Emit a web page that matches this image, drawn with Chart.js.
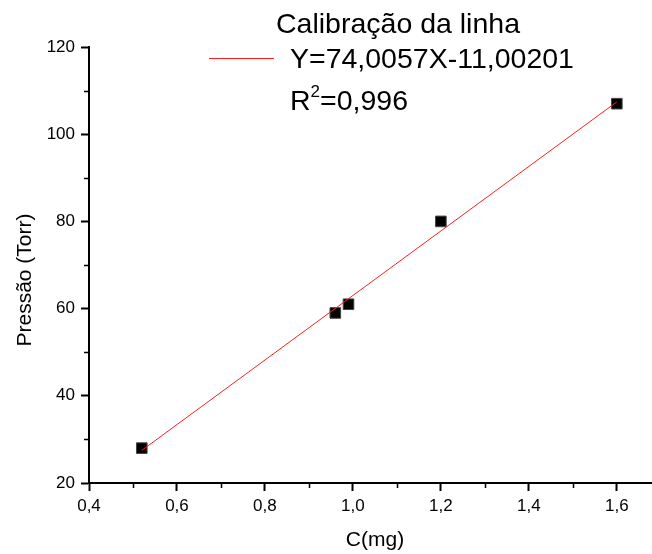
<!DOCTYPE html>
<html>
<head>
<meta charset="utf-8">
<script src="https://cdn.jsdelivr.net/npm/chart.js@4.4.1/dist/chart.umd.min.js"></script>
<style>
  html, body { margin: 0; padding: 0; background: #fff; }
  canvas { display: block; }
</style>
</head>
<body>
<canvas id="mycanvas" width="652" height="554"></canvas>
<script>
// measured points: C (mg) vs pressure (Torr)
var massC = [0.52, 0.96, 0.99, 1.2, 1.6];
var pressure = [28, 59, 61, 80, 107];

// linear fit end points
var fitX = [0.52, 1.6];
var fitY = [27.48, 107.41];

var xTicks = [0.4, 0.6, 0.8, 1.0, 1.2, 1.4, 1.6];
var xMinor = [0.5, 0.7, 0.9, 1.1, 1.3, 1.5];
var yTicks = [20, 40, 60, 80, 100, 120];
var yMinor = [30, 50, 70, 90, 110];

var titleText = 'Calibração da linha';
var fitText = 'Y=74,0057X-11,00201';
var r2Text = '0,996';

Chart.defaults.font.family = '"Liberation Sans", Arial, sans-serif';
Chart.defaults.color = '#000';

var points = [];
for (var i in massC) {
	points.push({x: massC[i], y: pressure[i]});
}
var fitLine = [];
for (var j in fitX) {
	fitLine.push({x: fitX[j], y: fitY[j]});
}

// minor ticks, legend and axis titles
var decor = {
	id: 'decor',
	afterDraw: function(chart) {
		var ctx = chart.ctx;
		var xs = chart.scales.x, ys = chart.scales.y;
		var area = chart.chartArea;
		ctx.save();
		ctx.strokeStyle = '#000';
		ctx.lineWidth = 1.5;
		ctx.beginPath();
		xMinor.forEach(function(v) {
			var px = Math.round(xs.getPixelForValue(v)) + 0.5;
			ctx.moveTo(px, area.bottom);
			ctx.lineTo(px, area.bottom + 5);
		});
		yMinor.forEach(function(v) {
			var py = Math.round(ys.getPixelForValue(v)) + 0.5;
			ctx.moveTo(area.left, py);
			ctx.lineTo(area.left - 5, py);
		});
		ctx.stroke();

		// legend
		ctx.fillStyle = '#000';
		ctx.textBaseline = 'alphabetic';
		ctx.font = '28.5px "Liberation Sans", Arial, sans-serif';
		ctx.textAlign = 'center';
		ctx.fillText(titleText, 398, 33);
		ctx.textAlign = 'left';
		ctx.fillText(fitText, 290, 68);
		ctx.fillText('R', 290, 110);
		var rw = ctx.measureText('R').width;
		ctx.font = '17px "Liberation Sans", Arial, sans-serif';
		ctx.fillText('2', 290 + rw, 97);
		var sw = ctx.measureText('2').width;
		ctx.font = '28.5px "Liberation Sans", Arial, sans-serif';
		ctx.fillText('=' + r2Text, 290 + rw + sw, 110);

		ctx.strokeStyle = 'rgb(255,30,30)';
		ctx.lineWidth = 1.2;
		ctx.beginPath();
		ctx.moveTo(209, 58.5);
		ctx.lineTo(274, 58.5);
		ctx.stroke();

		// axis titles
		ctx.fillStyle = '#000';
		ctx.font = '21px "Liberation Sans", Arial, sans-serif';
		ctx.textAlign = 'center';
		ctx.textBaseline = 'middle';
		ctx.fillText('C(mg)', 375, 540);
		ctx.translate(25, 280);
		ctx.rotate(-Math.PI / 2);
		ctx.fillText('Pressão (Torr)', 0, 0);
		ctx.restore();
	}
};

var axisGrid = {
	drawOnChartArea: false,
	drawTicks: true,
	tickLength: 8,
	tickColor: '#000',
	tickWidth: 2
};

var ctx = document.getElementById('mycanvas');

var scatterChart = new Chart(ctx, {
	type: 'scatter',
	data: {
		datasets: [
			{
				label: 'fit',
				data: fitLine,
				showLine: true,
				borderColor: 'rgb(255,30,30)',
				borderWidth: 1,
				pointRadius: 0,
				pointHoverRadius: 0
			},
			{
				label: 'Pressão',
				data: points,
				pointStyle: 'rect',
				pointRadius: 7.5,
				backgroundColor: '#000',
				borderColor: '#444',
				borderWidth: 1
			}
		]
	},
	options: {
		responsive: false,
		animation: false,
		devicePixelRatio: 1,
		layout: {
			autoPadding: false,
			padding: {top: 47, right: 0, left: 0, bottom: 0}
		},
		plugins: {
			legend: {display: false},
			tooltip: {enabled: false}
		},
		scales: {
			x: {
				type: 'linear',
				min: 0.4,
				max: 1.68,
				afterFit: function(scale) { scale.height = 71; },
				afterBuildTicks: function(scale) {
					scale.ticks = xTicks.map(function(v) { return {value: v}; });
				},
				grid: axisGrid,
				border: {display: true, color: '#000', width: 2},
				ticks: {
					padding: 5,
					font: {size: 17},
					color: '#000',
					callback: function(v) { return v.toFixed(1).replace('.', ','); }
				}
			},
			y: {
				type: 'linear',
				min: 20,
				max: 120,
				afterFit: function(scale) { scale.width = 89; },
				afterBuildTicks: function(scale) {
					scale.ticks = yTicks.map(function(v) { return {value: v}; });
				},
				grid: axisGrid,
				border: {display: true, color: '#000', width: 2},
				ticks: {
					padding: 6,
					font: {size: 17},
					color: '#000'
				}
			}
		}
	},
	plugins: [decor]
});
</script>
</body>
</html>
